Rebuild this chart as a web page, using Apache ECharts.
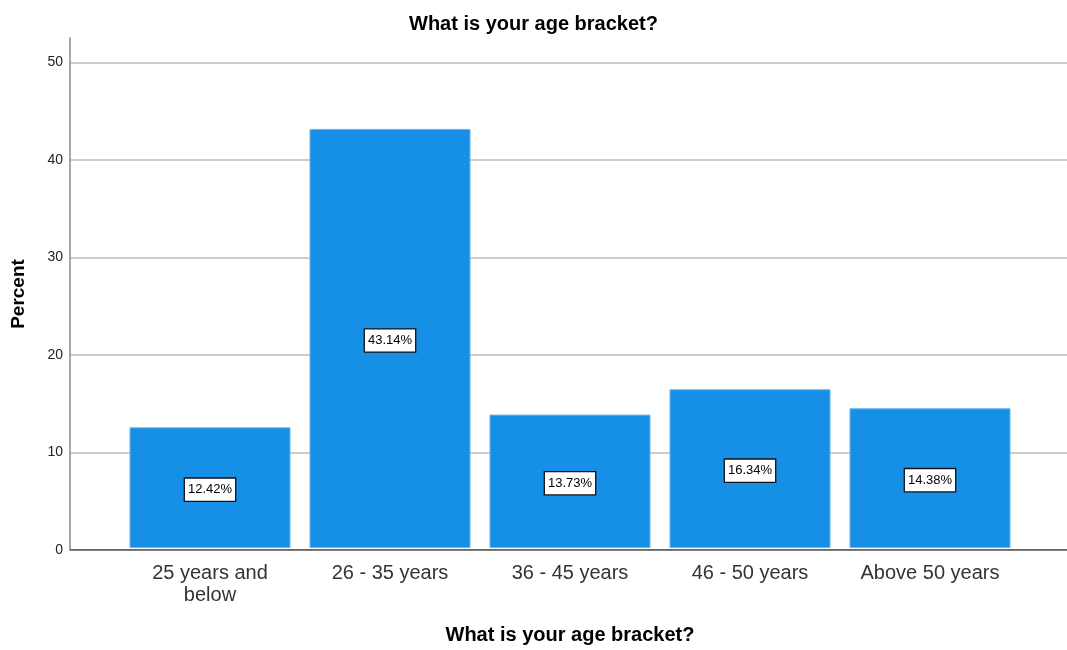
<!DOCTYPE html>
<html><head><meta charset="utf-8">
<script src="https://cdn.jsdelivr.net/npm/echarts@6/dist/echarts.min.js"></script>
<style>html,body{margin:0;padding:0;background:#fff}#c{width:1067px;height:650px}</style>
</head><body><div id="c"></div>
<script>
const categories = ['25 years and\nbelow', '26 - 35 years', '36 - 45 years', '46 - 50 years', 'Above 50 years'];
const percents = [12.42, 43.14, 13.73, 16.34, 14.38];
const chartTitle = 'What is your age bracket?';
const xTitle = 'What is your age bracket?';
const yTitle = 'Percent';

const font = 'Liberation Sans, Arial, sans-serif';
const chart = echarts.init(document.getElementById('c'));
chart.setOption({
  animation: false,
  title: { text: chartTitle, left: 'center', top: 9, textStyle: { fontFamily: font, fontSize: 20, fontWeight: 'bold', color: '#000' } },
  grid: [
    { left: 70, right: 0, top: 38, bottom: 100 },
    { left: 120, right: 47, top: 38, bottom: 100 }
  ],
  xAxis: [
    { gridIndex: 0, type: 'value', min: 0, max: 1, show: true, axisLine: { show: false }, axisTick: { show: false }, axisLabel: { show: false }, splitLine: { show: false } },
    { gridIndex: 1, type: 'category', data: categories,
      axisLine: { show: false }, axisTick: { show: false },
      axisLabel: { fontFamily: font, fontSize: 20, color: '#333', margin: 14, lineHeight: 22, interval: 0 },
      name: xTitle, nameLocation: 'middle', nameGap: 77,
      nameTextStyle: { fontFamily: font, fontSize: 20, fontWeight: 'bold', color: '#000' } }
  ],
  yAxis: [
    { gridIndex: 0, type: 'value', min: 0, max: 52.5, interval: 10,
      axisLine: { show: true, lineStyle: { color: '#888', width: 1.5 } },
      axisTick: { show: false },
      axisLabel: { fontFamily: font, fontSize: 14, color: '#222', margin: 7, showMaxLabel: false, padding: [4, 0, 0, 0] },
      splitLine: { show: true, showMaxLine: false, lineStyle: { color: '#cdcdcd', width: 2 } },
      name: yTitle, nameLocation: 'middle', nameGap: 42, nameRotate: 90,
      nameTextStyle: { fontFamily: font, fontSize: 19, fontWeight: 'bold', color: '#000' } },
    { gridIndex: 1, type: 'value', min: 0, max: 52.5, show: false, splitLine: { show: false } }
  ],
  series: [
    { type: 'bar', xAxisIndex: 1, yAxisIndex: 1, data: percents, barWidth: 161, z: 3,
      itemStyle: { color: '#1590e6', borderColor: '#6ab4ee', borderWidth: 1 },
      label: { show: true, position: 'inside', offset: [0, 2], formatter: p => p.value.toFixed(2) + '%',
        fontFamily: font, fontSize: 13, color: '#000', backgroundColor: '#fff',
        borderColor: '#111', borderWidth: 1.3, padding: [5, 3, 4, 3] } },
    { type: 'line', xAxisIndex: 0, yAxisIndex: 0, data: [[0, 0], [1, 0]], symbol: 'none', z: 5,
      lineStyle: { color: '#444', width: 1.5 }, silent: true }
  ]
});
</script></body></html>
